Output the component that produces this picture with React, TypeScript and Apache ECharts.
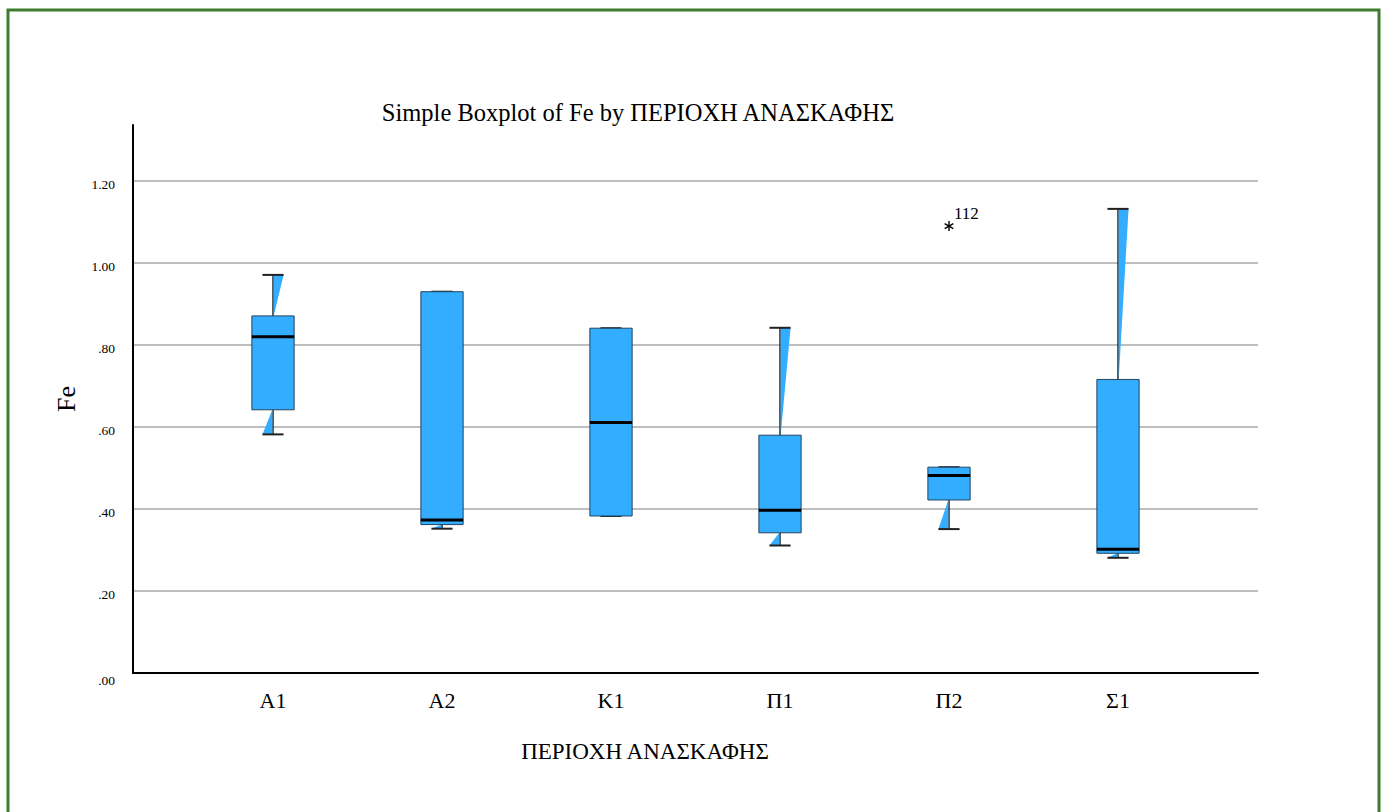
import React, { useEffect, useRef } from "react";
import * as echarts from "echarts";

const categories = ["A1", "A2", "K1", "Π1", "Π2", "Σ1"];
const whiskerLow = [0.582, 0.352, 0.383, 0.311, 0.351, 0.281];
const quartile1 = [0.642, 0.362, 0.383, 0.342, 0.422, 0.292];
const medians = [0.820, 0.373, 0.611, 0.397, 0.482, 0.302];
const quartile3 = [0.871, 0.930, 0.841, 0.580, 0.502, 0.716];
const whiskerHigh = [0.971, 0.930, 0.841, 0.842, 0.502, 1.132];

const outlierCategories = ["Π2"];
const outlierValues = [1.09];
const outlierLabels = ["112"];

const SERIF = "'Liberation Serif', 'Times New Roman', serif";
const BLUE = "#33adff";

export default function App() {
  const ref = useRef<HTMLDivElement>(null);

  useEffect(() => {
    if (!ref.current) return;
    const chart = echarts.init(ref.current, null, { renderer: "svg" });

    const boxData = categories.map((c, i) => [
      i,
      whiskerLow[i],
      quartile1[i],
      medians[i],
      quartile3[i],
      whiskerHigh[i],
    ]);
    const outlierData = outlierCategories.map((c, i) => [
      categories.indexOf(c),
      outlierValues[i],
      outlierLabels[i],
    ]);

    const yMax = 1.3366;

    const fmt = (v: number) => {
      const s = v.toFixed(2).replace(/^0/, "");
      return v === 0 ? "{z|" + s + "}" : "{a|" + s + "}";
    };

    chart.setOption({
      animation: false,
      backgroundColor: "#ffffff",
      title: [
        {
          text: "Simple Boxplot of Fe by ΠΕΡΙΟΧΗ ΑΝΑΣΚΑΦΗΣ",
          left: 638,
          top: 100,
          textAlign: "center",
          padding: 0,
          textStyle: {
            fontFamily: SERIF,
            fontWeight: "normal",
            fontSize: 24.5,
            color: "#000",
          },
        },
        {
          text: "ΠΕΡΙΟΧΗ ΑΝΑΣΚΑΦΗΣ",
          left: 645,
          top: 740,
          textAlign: "center",
          padding: 0,
          textStyle: {
            fontFamily: SERIF,
            fontWeight: "normal",
            fontSize: 23,
            color: "#000",
          },
        },
      ],
      graphic: [
        {
          type: "rect",
          shape: { x: 8, y: 10, width: 1371, height: 900 },
          style: { fill: "none", stroke: "#3e7b2c", lineWidth: 3 },
          silent: true,
        },
      ],
      grid: [
        { left: 133, right: 123, top: 125, bottom: 139 },
        { left: 188.5, right: 178.5, top: 125, bottom: 139 },
      ],
      xAxis: [
        {
          type: "value",
          gridIndex: 0,
          min: 0,
          max: 1,
          axisLine: { show: true, lineStyle: { color: "#000", width: 2 } },
          axisTick: { show: false },
          axisLabel: { show: false },
          splitLine: { show: false },
        },
        {
          type: "category",
          gridIndex: 1,
          data: categories,
          boundaryGap: true,
          axisLine: { show: false },
          axisTick: { show: false },
          splitLine: { show: false },
          axisLabel: {
            margin: 16,
            fontFamily: SERIF,
            fontSize: 22,
            color: "#000",
          },
        },
      ],
      yAxis: [
        {
          type: "value",
          gridIndex: 0,
          min: 0,
          max: yMax,
          interval: 0.2,
          name: "Fe",
          nameLocation: "middle",
          nameGap: 54,
          nameRotate: 90,
          nameTextStyle: {
            fontFamily: SERIF,
            fontSize: 26,
            color: "#000",
          },
          axisLine: { show: true, lineStyle: { color: "#000", width: 2 } },
          axisTick: { show: false },
          axisLabel: {
            margin: 18,
            showMaxLabel: false,
            formatter: fmt,
            rich: {
              a: {
                fontFamily: SERIF,
                fontSize: 13.5,
                color: "#000",
                padding: [6, 0, 0, 0],
              },
              z: {
                fontFamily: SERIF,
                fontSize: 13.5,
                color: "#000",
                padding: [14, 0, 0, 0],
              },
            },
          },
          splitLine: {
            show: true,
            showMinLine: false,
            showMaxLine: false,
            lineStyle: { color: "#a8a8a8", width: 1.5 },
          },
        },
        {
          type: "value",
          gridIndex: 1,
          min: 0,
          max: yMax,
          show: false,
          splitLine: { show: false },
        },
      ],
      series: [
        {
          type: "custom",
          xAxisIndex: 1,
          yAxisIndex: 1,
          data: boxData,
          encode: { x: 0, y: [1, 2, 3, 4, 5] },
          renderItem: (params: any, api: any) => {
            const idx = api.value(0);
            const band = api.size([1, 0])[0];
            const boxHalf = band * 0.125;
            const capHalf = band * 0.0625;
            const pLow = api.coord([idx, api.value(1)]);
            const pQ1 = api.coord([idx, api.value(2)]);
            const pMed = api.coord([idx, api.value(3)]);
            const pQ3 = api.coord([idx, api.value(4)]);
            const pHigh = api.coord([idx, api.value(5)]);
            const cx = pMed[0];
            const children: any[] = [];
            children.push({
              type: "line",
              shape: { x1: cx, y1: pQ3[1], x2: cx, y2: pHigh[1] },
              style: { stroke: "#1d2a33", lineWidth: 1.5 },
            });
            children.push({
              type: "line",
              shape: { x1: cx, y1: pQ1[1], x2: cx, y2: pLow[1] },
              style: { stroke: "#1d2a33", lineWidth: 1.5 },
            });
            if (pQ3[1] - pHigh[1] > 0.5) {
              children.push({
                type: "polygon",
                shape: {
                  points: [
                    [cx + 0.7, pHigh[1]],
                    [cx + capHalf, pHigh[1]],
                    [cx + 0.7, pQ3[1]],
                  ],
                },
                style: { fill: BLUE },
              });
            }
            if (pLow[1] - pQ1[1] > 0.5) {
              children.push({
                type: "polygon",
                shape: {
                  points: [
                    [cx - capHalf, pLow[1]],
                    [cx - 0.7, pLow[1]],
                    [cx - 0.7, pQ1[1]],
                  ],
                },
                style: { fill: BLUE },
              });
            }
            children.push({
              type: "line",
              shape: {
                x1: cx - capHalf,
                y1: pHigh[1],
                x2: cx + capHalf,
                y2: pHigh[1],
              },
              style: { stroke: "#222", lineWidth: 2 },
            });
            children.push({
              type: "line",
              shape: {
                x1: cx - capHalf,
                y1: pLow[1],
                x2: cx + capHalf,
                y2: pLow[1],
              },
              style: { stroke: "#222", lineWidth: 2 },
            });
            children.push({
              type: "rect",
              shape: {
                x: cx - boxHalf,
                y: pQ3[1],
                width: boxHalf * 2,
                height: pQ1[1] - pQ3[1],
              },
              style: { fill: BLUE, stroke: "#22445e", lineWidth: 1 },
            });
            children.push({
              type: "line",
              shape: {
                x1: cx - boxHalf,
                y1: pMed[1],
                x2: cx + boxHalf,
                y2: pMed[1],
              },
              style: { stroke: "#000", lineWidth: 3 },
            });
            return { type: "group", children };
          },
          z: 5,
        },
        {
          type: "custom",
          xAxisIndex: 1,
          yAxisIndex: 1,
          data: outlierData,
          encode: { x: 0, y: 1 },
          renderItem: (params: any, api: any) => {
            const p = api.coord([api.value(0), api.value(1)]);
            const r = 5;
            const arms: any[] = [];
            for (let k = 0; k < 3; k++) {
              const a = Math.PI / 2 + (k * Math.PI) / 3;
              arms.push({
                type: "line",
                shape: {
                  x1: p[0] - r * Math.cos(a),
                  y1: p[1] - r * Math.sin(a),
                  x2: p[0] + r * Math.cos(a),
                  y2: p[1] + r * Math.sin(a),
                },
                style: { stroke: "#000", lineWidth: 1.4 },
              });
            }
            arms.push({
              type: "text",
              x: p[0] + 5,
              y: p[1] - 13,
              style: {
                text: String(api.value(2)),
                fontFamily: SERIF,
                fontSize: 17,
                fill: "#000",
                align: "left",
                verticalAlign: "middle",
              },
            });
            return { type: "group", children: arms };
          },
          z: 6,
        },
      ],
    });

    return () => chart.dispose();
  }, []);

  return (
    <div
      ref={ref}
      style={{
        position: "absolute",
        left: 0,
        top: 0,
        width: 1381,
        height: 812,
      }}
    />
  );
}
